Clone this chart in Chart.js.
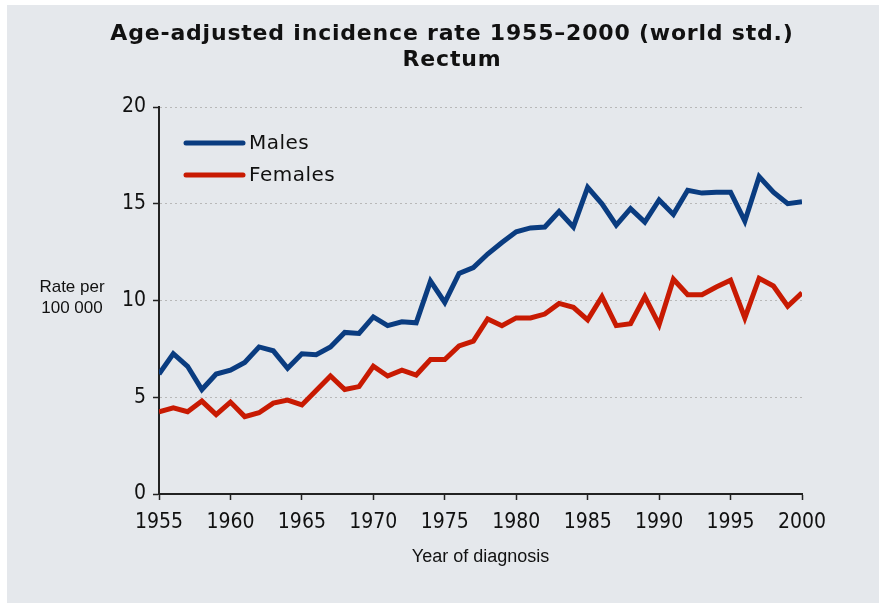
<!DOCTYPE html>
<html><head><meta charset="utf-8">
<script src="https://cdn.jsdelivr.net/npm/chart.js@4.4.1/dist/chart.umd.min.js"></script>
<style>
html,body{margin:0;padding:0;background:#ffffff;}
#wrap{position:absolute;left:7px;top:5px;width:872px;height:598px;background:#e5e8ec;}
</style></head><body>
<div id="wrap"><canvas id="c"></canvas></div>
<script>
const years = [1955,1956,1957,1958,1959,1960,1961,1962,1963,1964,1965,1966,1967,1968,1969,1970,1971,1972,1973,1974,1975,1976,1977,1978,1979,1980,1981,1982,1983,1984,1985,1986,1987,1988,1989,1990,1991,1992,1993,1994,1995,1996,1997,1998,1999,2000];
const males = [6.2,7.25,6.6,5.4,6.2,6.4,6.8,7.6,7.4,6.5,7.25,7.2,7.6,8.35,8.3,9.15,8.7,8.9,8.85,11.0,9.9,11.4,11.7,12.4,13.0,13.55,13.75,13.8,14.6,13.8,15.85,15.0,13.9,14.75,14.05,15.2,14.45,15.7,15.55,15.6,15.6,14.1,16.4,15.6,15.0,15.1];
const females = [4.25,4.45,4.25,4.8,4.1,4.75,4.0,4.2,4.7,4.85,4.6,5.35,6.1,5.4,5.55,6.6,6.1,6.4,6.15,6.95,6.95,7.65,7.9,9.05,8.7,9.1,9.1,9.3,9.85,9.65,9.0,10.2,8.7,8.8,10.2,8.75,11.1,10.3,10.3,10.7,11.05,9.1,11.15,10.75,9.7,10.4];
const seriesNames = ['Males','Females'];
const seriesColors = ['#0a3c80','#c81a02'];
const titleLines = ['Age-adjusted incidence rate 1955\u20132000 (world std.)','Rectum'];
const yTitleLines = ['Rate per','100 000'];
const xTitle = 'Year of diagnosis';
const yTicks = [0,5,10,15,20];
const xTicks = [1955,1960,1965,1970,1975,1980,1985,1990,1995,2000];

const tickFamily = '"DejaVu Sans Condensed", "DejaVu Sans", sans-serif';

const decor = {
  id: 'decor',
  afterDraw(chart) {
    const ctx = chart.ctx;
    const a = chart.chartArea;
    ctx.save();
    // title
    ctx.fillStyle = '#111111';
    ctx.textAlign = 'center';
    ctx.textBaseline = 'middle';
    ctx.font = 'bold 22px "DejaVu Sans", sans-serif';
    try { ctx.letterSpacing = '0.8px'; } catch (e) {}
    ctx.fillText(titleLines[0], 445, 29);
    ctx.fillText(titleLines[1], 445, 55);
    // legend
    ctx.font = '20px "DejaVu Sans", sans-serif';
    try { ctx.letterSpacing = '0.5px'; } catch (e) {}
    ctx.textAlign = 'left';
    chart.data.datasets.forEach((ds, i) => {
      const y = a.top + 36 + i * 32;
      ctx.strokeStyle = ds.borderColor;
      ctx.lineWidth = 5;
      ctx.lineCap = 'round';
      ctx.beginPath();
      ctx.moveTo(a.left + 27, y);
      ctx.lineTo(a.left + 84, y);
      ctx.stroke();
      ctx.fillStyle = '#111111';
      ctx.fillText(ds.label, a.left + 90, y + 1);
    });
    // y title
    try { ctx.letterSpacing = '0px'; } catch (e) {}
    ctx.font = '17px "Liberation Sans", Arial, sans-serif';
    ctx.textAlign = 'center';
    ctx.fillStyle = '#111111';
    ctx.fillText(yTitleLines[0], 65, 282);
    ctx.fillText(yTitleLines[1], 65, 303);
    ctx.restore();
  }
};

new Chart(document.getElementById('c'), {
  type: 'line',
  data: {
    datasets: [
      { label: seriesNames[0], data: years.map((y, i) => ({x: y, y: males[i]})), borderColor: seriesColors[0], backgroundColor: seriesColors[0], borderWidth: 5, pointRadius: 0, tension: 0, fill: false },
      { label: seriesNames[1], data: years.map((y, i) => ({x: y, y: females[i]})), borderColor: seriesColors[1], backgroundColor: seriesColors[1], borderWidth: 5, pointRadius: 0, tension: 0, fill: false }
    ]
  },
  options: {
    responsive: true,
    maintainAspectRatio: false,
    animation: false,
    layout: { padding: { left: 0, right: 77, top: 102, bottom: 0 } },
    plugins: { legend: { display: false }, title: { display: false }, tooltip: { enabled: false } },
    scales: {
      x: {
        type: 'linear',
        min: 1955, max: 2000,
        afterBuildTicks: s => { s.ticks = xTicks.map(v => ({value: v})); },
        afterFit: s => { s.height = 109; },
        grid: { drawOnChartArea: false, drawTicks: true, tickLength: 6, tickColor: '#222222', tickWidth: 1.5 },
        border: { display: true, color: '#222222', width: 2 },
        ticks: { color: '#111111', font: { family: tickFamily, size: 21 }, padding: 10, maxRotation: 0, autoSkip: false, callback: v => String(v) },
        title: { display: true, text: xTitle, color: '#111111', font: { family: '"Liberation Sans", Arial, sans-serif', size: 18 }, padding: { top: 0, bottom: 35 } }
      },
      y: {
        type: 'linear',
        min: 0, max: 20,
        afterBuildTicks: s => { s.ticks = yTicks.map(v => ({value: v})); },
        afterFit: s => { s.width = 152; },
        grid: { drawOnChartArea: true, color: '#b8b8b8', lineWidth: 1, drawTicks: true, tickLength: 6, tickColor: '#222222', tickWidth: 1.5, tickBorderDash: [] },
        border: { display: true, color: '#222222', width: 2, dash: [2, 3] },
        ticks: { color: '#111111', font: { family: tickFamily, size: 21 }, padding: 7 }
      }
    }
  },
  plugins: [decor]
});
</script>
</body></html>
